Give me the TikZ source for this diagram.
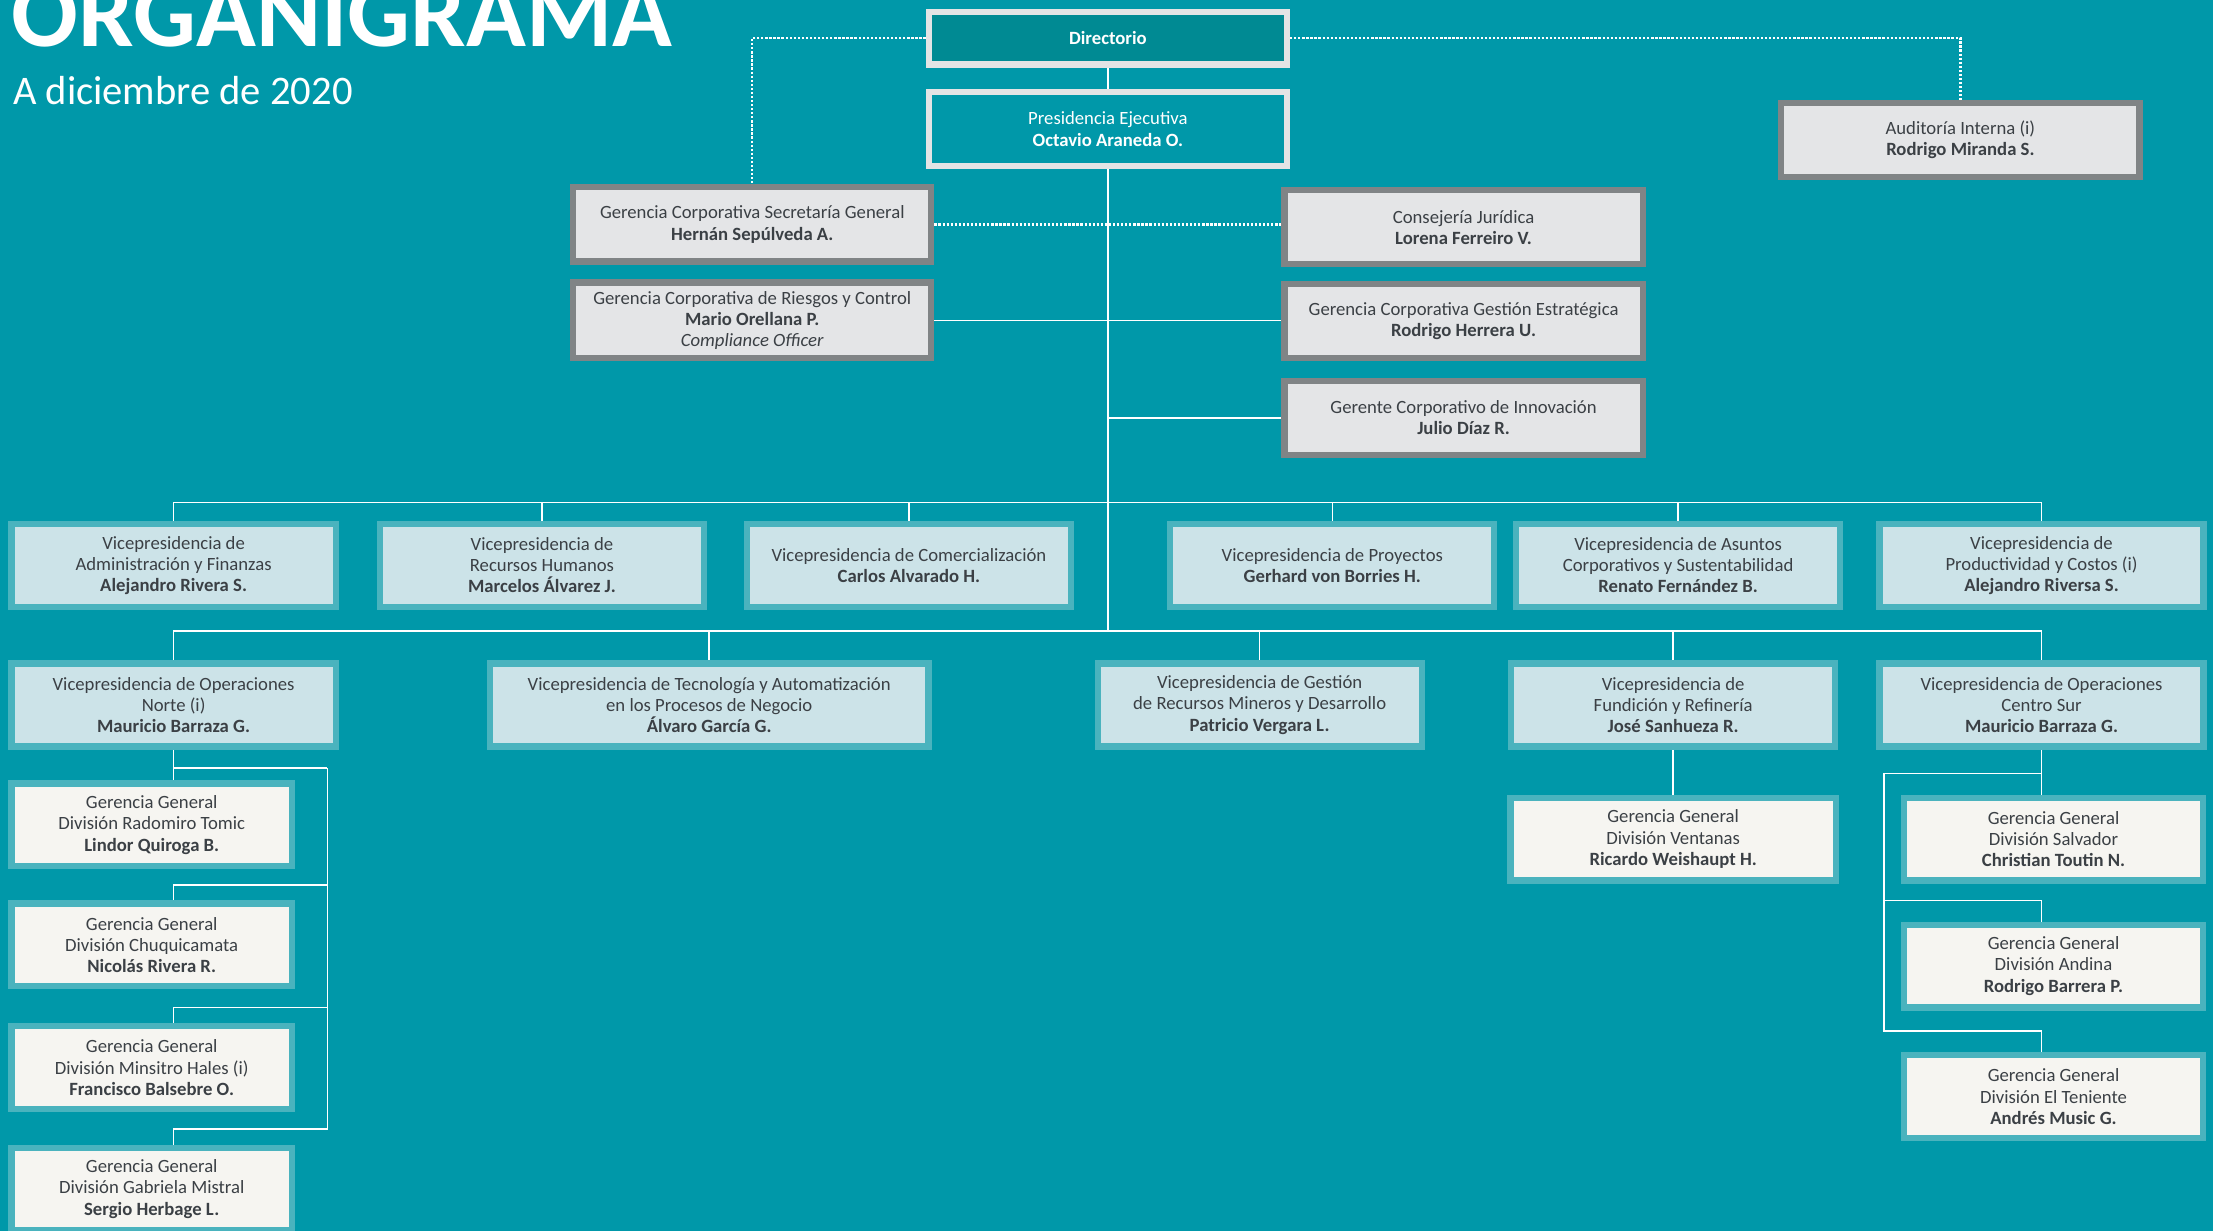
\documentclass[tikz,border=0pt]{standalone}
\usepackage{fontspec}
\setmainfont{Carlito}
\usetikzlibrary{positioning,backgrounds}
\definecolor{bgteal}{HTML}{0098A9}
\definecolor{dirteal}{HTML}{008A93}
\definecolor{frameclear}{HTML}{E3E4E5}
\definecolor{grayfill}{HTML}{E4E5E7}
\definecolor{grayframe}{HTML}{808486}
\definecolor{vpfill}{HTML}{CCE3E8}
\definecolor{vpframe}{HTML}{4AB3BE}
\definecolor{ggfill}{HTML}{F6F5F1}
\definecolor{txtgray}{HTML}{3B4045}
\tikzset{%
    box/.style={%
        rectangle, line width=3.5pt, align=center, inner sep=2pt, text=txtgray,
        font=\fontsize{10.6}{12}\selectfont
    },
    head_box/.style={%
        box, draw=frameclear, fill=bgteal, text=white, minimum width=203pt, minimum height=42pt
    },
    staff_box/.style={%
        box, draw=grayframe, fill=grayfill, minimum width=203pt, minimum height=42pt
    },
    vp_box/.style={%
        box, draw=vpframe, fill=vpfill, minimum width=#1, minimum height=47pt
    },
    vp_box/.default=183.7pt,
    gg_box/.style={%
        box, draw=vpframe, fill=ggfill, minimum width=#1, minimum height=47pt
    },
    gg_box/.default=159pt,
    link/.style={%
        draw=white, line width=0.9pt
    },
    dotted_link/.style={%
        draw=white, line width=1.3pt, densely dotted
    },
}

\begin{document}
\begin{tikzpicture}[x=0.8pt, y=-0.8pt]
      \useasboundingbox (0,0) rectangle (1568,872);
      \clip (0,0) rectangle (1568,872);

      \node[anchor=base west, inner sep=0pt, text=white, font=\fontsize{56}{56}\selectfont\bfseries] (title) at (8,33) {ORGANIGRAMA};
      \node[anchor=base west, inner sep=0pt, text=white, font=\fontsize{23}{23}\selectfont] (subtitle) at (9,74) {A diciembre de 2020};

      \node[head_box, fill=dirteal, minimum height=30pt] (dir) at (785,27) {\textbf{Directorio}};
      \node[head_box] (pres) at (785,91.5) {Presidencia Ejecutiva\\\textbf{Octavio Araneda O.}};
      \node[staff_box] (audit) at (1389,99) {Auditoría Interna (i)\\\textbf{Rodrigo Miranda S.}};
      \node[staff_box] (secgen) at (533,159) {Gerencia Corporativa Secretaría General\\\textbf{Hernán Sepúlveda A.}};
      \node[staff_box, minimum height=43pt] (risk) at (533,227) {Gerencia Corporativa de Riesgos y Control\\\textbf{Mario Orellana P.}\\\textit{Compliance Officer}};
      \node[staff_box] (legal) at (1037,161) {Consejería Jurídica\\\textbf{Lorena Ferreiro V.}};
      \node[staff_box] (strat) at (1037,227.5) {Gerencia Corporativa Gestión Estratégica\\\textbf{Rodrigo Herrera U.}};
      \node[staff_box] (innov) at (1037,296) {Gerente Corporativo de Innovación\\\textbf{Julio Díaz R.}};

      \node[vp_box] (admin) at (123,400.5) {Vicepresidencia de\\Administración y Finanzas\\\textbf{Alejandro Rivera S.}};
      \node[vp_box] (hr) at (384,400.5) {Vicepresidencia de\\Recursos Humanos\\\textbf{Marcelos Álvarez J.}};
      \node[vp_box] (sales) at (644,400.5) {Vicepresidencia de Comercialización\\\textbf{Carlos Alvarado H.}};
      \node[vp_box] (proj) at (944,400.5) {Vicepresidencia de Proyectos\\\textbf{Gerhard von Borries H.}};
      \node[vp_box] (corp) at (1189,400.5) {Vicepresidencia de Asuntos\\Corporativos y Sustentabilidad\\\textbf{Renato Fernández B.}};
      \node[vp_box] (prod) at (1446.5,400.5) {Vicepresidencia de\\Productividad y Costos (i)\\\textbf{Alejandro Riversa S.}};

      \node[vp_box] (opnorth) at (123,499.5) {Vicepresidencia de Operaciones\\Norte (i)\\\textbf{Mauricio Barraza G.}};
      \node[vp_box=248.5pt] (tech) at (502.5,499.5) {Vicepresidencia de Tecnología y Automatización\\en los Procesos de Negocio\\\textbf{Álvaro García G.}};
      \node[vp_box] (mining) at (892.5,499.5) {Vicepresidencia de Gestión\\de Recursos Mineros y Desarrollo\\\textbf{Patricio Vergara L.}};
      \node[vp_box] (smelt) at (1185.5,499.5) {Vicepresidencia de\\Fundición y Refinería\\\textbf{José Sanhueza R.}};
      \node[vp_box] (opsouth) at (1446.5,499.5) {Vicepresidencia de Operaciones\\Centro Sur\\\textbf{Mauricio Barraza G.}};

      \node[gg_box] (rtomic) at (107.5,584.5) {Gerencia General\\División Radomiro Tomic\\\textbf{Lindor Quiroga B.}};
      \node[gg_box] (chuqui) at (107.5,669.5) {Gerencia General\\División Chuquicamata\\\textbf{Nicolás Rivera R.}};
      \node[gg_box] (mhales) at (107.5,756.5) {Gerencia General\\División Minsitro Hales (i)\\\textbf{Francisco Balsebre O.}};
      \node[gg_box] (gmistral) at (107.5,842.5) {Gerencia General\\División Gabriela Mistral\\\textbf{Sergio Herbage L.}};
      \node[gg_box=184.5pt] (ventanas) at (1185.5,594.5) {Gerencia General\\División Ventanas\\\textbf{Ricardo Weishaupt H.}};
      \node[gg_box=169.3pt] (salvador) at (1455,594.5) {Gerencia General\\División Salvador\\\textbf{Christian Toutin N.}};
      \node[gg_box=169.3pt] (andina) at (1455,684.5) {Gerencia General\\División Andina\\\textbf{Rodrigo Barrera P.}};
      \node[gg_box=169.3pt] (teniente) at (1455,777) {Gerencia General\\División El Teniente\\\textbf{Andrés Music G.}};

      \coordinate (bus1) at (785,356);
      \coordinate (bus2) at (785,447);
      \coordinate (spine_n) at (232,544);
      \coordinate (spine_s) at (1335,548);

      \begin{scope}[on background layer]
        \fill[bgteal] (0,0) rectangle (1568,872);
        \draw[dotted_link] (dir.west) -| (secgen.north);
        \draw[dotted_link] (dir.east) -| (audit.north);
        \draw[dotted_link] (secgen.east) -- (secgen.east -| legal.west);
        \draw[link] (dir.south) -- (pres.north);
        \draw[link] (pres.south) -- (bus2);
        \draw[link] (risk.east) -- (risk.east -| strat.west);
        \draw[link] (innov.west) -- (innov.west -| pres.south);
        \draw[link] (admin.north) |- (bus1) -| (prod.north);
        \foreach \n in {hr,sales,proj,corp}
          \draw[link] (\n.north) -- (\n.north |- bus1);
        \draw[link] (opnorth.north) |- (bus2) -| (opsouth.north);
        \foreach \n in {tech,mining,smelt}
          \draw[link] (\n.north) -- (\n.north |- bus2);
        \draw[link] (opnorth.south) -- (opnorth.south |- rtomic.north);
        \draw[link] (opnorth.south |- spine_n) -- (spine_n);
        \foreach \n in {chuqui,mhales,gmistral}
          \draw[link] (\n.north -| opnorth.south) -- ++(0,-11) -| (spine_n);
        \draw[link] (smelt.south) -- (ventanas.north);
        \draw[link] (opsouth.south) -- (opsouth.south |- salvador.north);
        \draw[link] (opsouth.south |- spine_s) -- (spine_s);
        \foreach \n in {andina,teniente}
          \draw[link] (\n.north -| opsouth.south) -- ++(0,-15) -| (spine_s);
      \end{scope}
    \end{tikzpicture}
\end{document}
